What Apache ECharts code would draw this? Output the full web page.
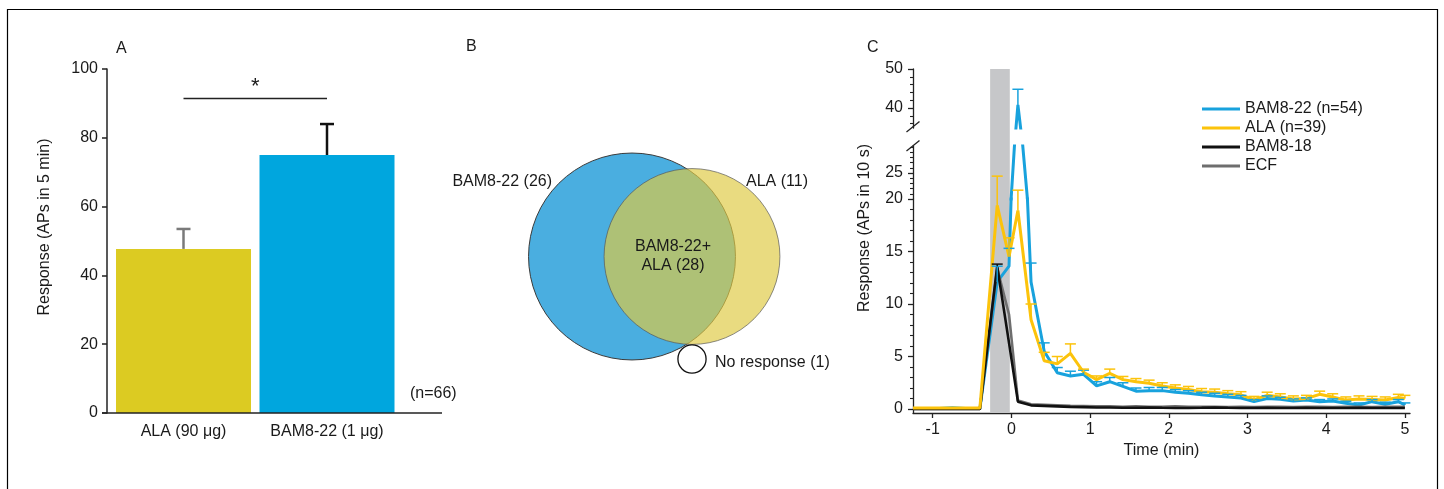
<!DOCTYPE html>
<html>
<head>
<meta charset="utf-8">
<script src="https://cdn.jsdelivr.net/npm/echarts@6/dist/echarts.min.js"></script>
<style>
html,body{margin:0;padding:0;background:#fff;}
#chart{width:1444px;height:489px;}
</style>
</head>
<body>
<div id="chart"></div>
<script>
// ---------- Panel A data ----------
const barCategories = ['ALA (90 μg)', 'BAM8-22 (1 μg)'];
const barValues = [47.7, 75.0];
const barErrors = [5.8, 9.0];
const sigLevel = 91.6;
const yTicksA = [0, 20, 40, 60, 80, 100];

// ---------- Panel B data ----------
const vennOnlyBAM = 26;
const vennOnlyALA = 11;
const vennBoth = 28;
const vennNone = 1;

// ---------- Panel C data ----------
const timeMin = [-1.25, -1.083, -0.917, -0.75, -0.583, -0.4, -0.18, -0.03, 0.083, 0.25, 0.417, 0.583, 0.75, 0.917, 1.083, 1.25, 1.417, 1.583, 1.75, 1.917, 2.083, 2.25, 2.417, 2.583, 2.75, 2.917, 3.083, 3.25, 3.417, 3.583, 3.75, 3.917, 4.083, 4.25, 4.417, 4.583, 4.75, 4.917, 5.0];
const bam22Resp = [0.05, 0.05, 0.05, 0.12, 0.05, 0.05, 12.1, 13.6, 40.8, 12.1, 5.5, 3.45, 3.15, 3.3, 2.2, 2.6, 2.15, 1.7, 1.75, 1.75, 1.6, 1.5, 1.35, 1.25, 1.15, 1.05, 0.7, 1.0, 0.92, 0.76, 0.86, 0.7, 0.76, 0.54, 0.38, 0.7, 0.45, 0.7, 0.38];
const bam22Err = [0, 0, 0, 0, 0, 0, 1.5, 1.7, 4.0, 1.8, 0.8, 0.5, 0.45, 0.4, 0.4, 0.4, 0.35, 0.3, 0.3, 0.3, 0.25, 0.25, 0.25, 0.25, 0.25, 0.25, 0.2, 0.25, 0.2, 0.2, 0.2, 0.2, 0.2, 0.2, 0.2, 0.2, 0.2, 0.2, 0.2];
const alaResp = [0.1, 0.1, 0.1, 0.1, 0.1, 0.1, 19.4, 14.5, 18.9, 8.5, 4.6, 4.3, 5.3, 3.5, 2.8, 3.4, 2.8, 2.6, 2.45, 2.2, 2.0, 1.85, 1.65, 1.6, 1.45, 1.35, 0.9, 1.3, 1.15, 0.95, 1.0, 1.4, 1.15, 0.85, 0.95, 0.9, 0.85, 1.1, 1.0];
const alaErr = [0, 0, 0, 0, 0, 0, 5.0, 1.8, 2.8, 1.5, 0.8, 0.7, 0.9, 0.3, 0.35, 0.4, 0.3, 0.3, 0.3, 0.3, 0.3, 0.3, 0.3, 0.3, 0.3, 0.3, 0.3, 0.3, 0.3, 0.3, 0.3, 0.3, 0.3, 0.3, 0.3, 0.3, 0.3, 0.3, 0.3];
const bam18Resp = [0, 0, 0, 0, 0, 0, 13.6, 6.3, 0.7, 0.35, 0.3, 0.25, 0.2, 0.18, 0.15, 0.15, 0.12, 0.12, 0.15, 0.12, 0.1, 0.1, 0.12, 0.15, 0.12, 0.1, 0.1, 0.12, 0.1, 0.1, 0.12, 0.1, 0.1, 0.1, 0.12, 0.1, 0.1, 0.1, 0.1];
const bam18Err = [0, 0, 0, 0, 0, 0, 0.2, 0, 0, 0, 0, 0, 0, 0, 0, 0, 0, 0, 0, 0, 0, 0, 0, 0, 0, 0, 0, 0, 0, 0, 0, 0, 0, 0, 0, 0, 0, 0, 0];
const ecfResp = [0, 0, 0, 0, 0, 0, 13.4, 9.0, 0.8, 0.45, 0.4, 0.35, 0.3, 0.28, 0.25, 0.25, 0.22, 0.25, 0.22, 0.2, 0.25, 0.2, 0.2, 0.22, 0.18, 0.2, 0.18, 0.2, 0.2, 0.18, 0.2, 0.2, 0.18, 0.2, 0.2, 0.18, 0.2, 0.2, 0.2];
const stimWindow = [-0.27, -0.02];
const seriesNamesC = ['BAM8-22 (n=54)', 'ALA (n=39)', 'BAM8-18', 'ECF'];
const xTicksC = [-1, 0, 1, 2, 3, 4, 5];
const yTicksHigh = [40, 50];
const yMinorHigh = [36, 38, 42, 44, 46, 48];
const yTicksMid = [25];
const yMinorMid = [21, 22, 23, 24, 26, 27, 28, 29, 30];
const yTicksLow = [0, 5, 10, 15, 20];
const yMinorLow = [1, 2, 3, 4, 6, 7, 8, 9, 11, 12, 13, 14, 16, 17, 18, 19];

// ---------- styling ----------
const FONT = '"Liberation Sans", Arial, Helvetica, sans-serif';
const TXT = '#1a1a1a';
const AXC = '#222';
const barColors = ['#dccb22', '#00a6de'];
const barErrColors = ['#7a7a7a', '#111111'];
const colC = ['#18a2dd', '#fcc30b', '#111111', '#6e6e6e'];
const lwC = [3, 3, 2.6, 2.6];
const zC = [3, 6, 5, 4];

const chart = echarts.init(document.getElementById('chart'), null, {renderer: 'canvas'});

// Panel C geometry
const cLeft = 913, cWidth = 497;
const xMinC = -1.25, xMaxC = 5.065;

function errBarRender(colors, capHalf, lw) {
  return function (params, api) {
    const cs = params.coordSys;
    const t = api.value(0), v = api.value(1), e = api.value(2), ci = api.value(3);
    if (!e) return {type: 'group', children: []};
    const p0 = api.coord([t, v]);
    const p1 = api.coord([t, v + e]);
    const top = cs.y, bot = cs.y + cs.height;
    const y0 = Math.min(p0[1], bot);
    const y1 = Math.max(p1[1], top);
    if (y1 >= y0) return {type: 'group', children: []};
    const col = colors[ci];
    const ch = [{type: 'line', shape: {x1: p0[0], y1: y0, x2: p0[0], y2: y1}, style: {stroke: col, lineWidth: lw}}];
    if (p1[1] >= top && p1[1] <= bot) {
      ch.push({type: 'line', shape: {x1: p0[0] - capHalf, y1: p1[1], x2: p0[0] + capHalf, y2: p1[1]}, style: {stroke: col, lineWidth: lw}});
    }
    return {type: 'group', children: ch};
  };
}

const respC = [bam22Resp, alaResp, bam18Resp, ecfResp];
const errC = [bam22Err, alaErr, bam18Err, null];
const errData = [];
respC.forEach((arr, si) => {
  if (!errC[si]) return;
  arr.forEach((v, i) => { if (errC[si][i] > 0) errData.push([timeMin[i], v, errC[si][i], si]); });
});

const grids = [
  {left: 111.75, top: 69, width: 287, height: 344},          // 0 panel A
  {left: 500, top: 140, width: 330, height: 240},            // 1 panel B
  {left: cLeft, top: 69, width: cWidth, height: 344},        // 2 stimulus background
  {left: cLeft, top: 69, width: cWidth, height: 59},         // 3 upper segment
  {left: cLeft, top: 146, width: cWidth, height: 53},        // 4 middle segment
  {left: cLeft, top: 199, width: cWidth, height: 214}        // 5 lower segment
];

const hiddenX = (gi) => ({type: 'value', gridIndex: gi, min: xMinC, max: xMaxC, show: false});
const axisLineC = {show: true, onZero: false, lineStyle: {color: AXC, width: 1.3}};

const xAxes = [
  {type: 'category', gridIndex: 0, data: barCategories, axisLine: {show: false}, axisTick: {show: false},
   axisLabel: {fontSize: 16, color: TXT, margin: 11, fontFamily: FONT, interval: 0}},
  {type: 'value', gridIndex: 1, min: 0, max: 330, show: false},
  hiddenX(2), hiddenX(3), hiddenX(4),
  {type: 'value', gridIndex: 5, min: xMinC, max: xMaxC, position: 'bottom', axisLine: axisLineC,
   axisTick: {show: true, length: 5, lineStyle: {color: AXC, width: 1.3}, customValues: xTicksC},
   axisLabel: {fontSize: 16, color: TXT, margin: 9, fontFamily: FONT, customValues: xTicksC},
   splitLine: {show: false},
   name: 'Time (min)', nameLocation: 'middle', nameGap: 30,
   nameTextStyle: {fontSize: 16, color: TXT, fontFamily: FONT}}
];

function yMajor(gi, min, max, ticks) {
  return {type: 'value', gridIndex: gi, min: min, max: max, position: 'left', offset: 0, axisLine: axisLineC,
    axisTick: {show: true, length: 5, lineStyle: {color: AXC, width: 1.3}, customValues: ticks},
    axisLabel: {fontSize: 16, color: TXT, margin: 10, fontFamily: FONT, customValues: ticks},
    splitLine: {show: false}};
}
function yMinor(gi, min, max, ticks) {
  return {type: 'value', gridIndex: gi, min: min, max: max, position: 'left', offset: 0,
    axisLine: {show: false, onZero: false},
    axisTick: {show: true, length: 3, lineStyle: {color: AXC, width: 1.1}, customValues: ticks},
    axisLabel: {show: false}, splitLine: {show: false}};
}

const yAxes = [
  {type: 'value', gridIndex: 0, min: 0, max: 100, interval: 20, offset: 4.75, position: 'left',
   axisLine: {show: true, onZero: false, lineStyle: {color: AXC, width: 1.5}},
   axisTick: {show: true, length: 5, lineStyle: {color: AXC, width: 1.5}},
   axisLabel: {fontSize: 16, color: TXT, margin: 9, fontFamily: FONT, customValues: yTicksA},
   splitLine: {show: false}},
  {type: 'value', gridIndex: 1, min: 0, max: 240, inverse: true, show: false},
  {type: 'value', gridIndex: 2, min: 0, max: 1, show: false},
  yMajor(3, 34.87, 50, yTicksHigh), yMinor(3, 34.87, 50, yMinorHigh),
  yMajor(4, 20, 30.2, yTicksMid), yMinor(4, 20, 30.2, yMinorMid),
  yMajor(5, -0.38, 20, yTicksLow), yMinor(5, -0.38, 20, yMinorLow)
];

const series = [];

// Panel A bars
series.push({
  type: 'bar', xAxisIndex: 0, yAxisIndex: 0, barWidth: 135, silent: true,
  data: barValues.map((v, i) => ({value: v, itemStyle: {color: barColors[i]}})),
  markLine: {
    silent: true, symbol: 'none',
    lineStyle: {color: AXC, width: 1.3, type: 'solid'},
    label: {show: true, formatter: '*', position: 'middle', fontSize: 22, color: TXT, fontFamily: FONT, distance: 0},
    data: [[{coord: [0, sigLevel]}, {coord: [1, sigLevel]}]]
  }
});
series.push({
  type: 'custom', xAxisIndex: 0, yAxisIndex: 0, z: 5, silent: true,
  data: barValues.map((v, i) => [i, v, barErrors[i], i]),
  renderItem: errBarRender(barErrColors, 7, 2.5)
});

// Panel B Venn (area-proportional circles)
const K = 14.08;
const vennCircles = [
  {value: [132, 116.5], symbolSize: 2 * K * Math.sqrt(vennOnlyBAM + vennBoth),
   itemStyle: {color: '#4aaee0', borderColor: '#3a3a3a', borderWidth: 1, opacity: 1}},
  {value: [192, 116.5], symbolSize: 2 * K * Math.sqrt(vennOnlyALA + vennBoth),
   itemStyle: {color: '#dfca44', borderColor: '#555', borderWidth: 1, opacity: 0.68}},
  {value: [192, 219], symbolSize: 2 * K * Math.sqrt(vennNone),
   itemStyle: {color: '#ffffff', borderColor: '#111', borderWidth: 1.3, opacity: 1}}
];
series.push({type: 'scatter', xAxisIndex: 1, yAxisIndex: 1, symbol: 'circle', silent: true, z: 2, data: vennCircles});

// Panel C stimulus window
series.push({
  type: 'custom', xAxisIndex: 2, yAxisIndex: 2, z: 1, silent: true,
  data: [[stimWindow[0], stimWindow[1]]],
  renderItem: function (params, api) {
    const a = api.coord([api.value(0), 1]);
    const b = api.coord([api.value(1), 0]);
    return {type: 'rect', shape: {x: a[0], y: a[1], width: b[0] - a[0], height: b[1] - a[1]}, style: {fill: '#c6c7c9'}};
  }
});

// Panel C lines in each axis segment (clipped to segment)
[[3, 3], [4, 5], [5, 7]].forEach(([gi, yi]) => {
  respC.forEach((arr, si) => {
    series.push({
      type: 'line', name: seriesNamesC[si], xAxisIndex: gi, yAxisIndex: yi,
      data: arr.map((v, i) => [timeMin[i], v]),
      symbol: 'none', showSymbol: false, clip: true, silent: true, z: zC[si],
      lineStyle: {color: colC[si], width: lwC[si]}, itemStyle: {color: colC[si]}
    });
  });
  series.push({
    type: 'custom', xAxisIndex: gi, yAxisIndex: yi, z: 7, silent: true,
    data: errData, renderItem: errBarRender(colC, 5.5, 1.5)
  });
});

const T16 = '16px ' + FONT;
const graphics = [
  // figure frame
  {type: 'polyline', shape: {points: [[7.5, 489], [7.5, 9.5], [1437.5, 9.5], [1437.5, 489]]}, style: {stroke: '#000', lineWidth: 1.2, fill: null}, silent: true},
  // panel A baseline
  {type: 'line', shape: {x1: 102, y1: 413, x2: 442, y2: 413}, style: {stroke: AXC, lineWidth: 1.5}, silent: true},
  // panel letters
  {type: 'text', x: 116, y: 49, style: {text: 'A', font: T16, fill: TXT, verticalAlign: 'middle'}},
  {type: 'text', x: 466, y: 47, style: {text: 'B', font: T16, fill: TXT, verticalAlign: 'middle'}},
  {type: 'text', x: 867, y: 48, style: {text: 'C', font: T16, fill: TXT, verticalAlign: 'middle'}},
  // panel A texts
  {type: 'text', x: 45, y: 227, rotation: Math.PI / 2, style: {text: 'Response (APs in 5 min)', font: T16, fill: TXT, align: 'center', verticalAlign: 'middle'}},
  {type: 'text', x: 410, y: 394, style: {text: '(n=' + (vennOnlyBAM + vennOnlyALA + vennBoth + vennNone) + ')', font: T16, fill: TXT, verticalAlign: 'middle'}},
  // panel B texts
  {type: 'text', x: 552, y: 182, style: {text: 'BAM8-22 (' + vennOnlyBAM + ')', font: T16, fill: TXT, align: 'right', verticalAlign: 'middle'}},
  {type: 'text', x: 746, y: 182, style: {text: 'ALA (' + vennOnlyALA + ')', font: T16, fill: TXT, align: 'left', verticalAlign: 'middle'}},
  {type: 'text', x: 673, y: 256, style: {text: 'BAM8-22+\nALA (' + vennBoth + ')', font: T16, fill: TXT, align: 'center', verticalAlign: 'middle', lineHeight: 19}},
  {type: 'text', x: 715, y: 363, style: {text: 'No response (' + vennNone + ')', font: T16, fill: TXT, align: 'left', verticalAlign: 'middle'}},
  // panel C axis title and break marks
  {type: 'text', x: 865, y: 228, rotation: Math.PI / 2, style: {text: 'Response (APs in 10 s)', font: T16, fill: TXT, align: 'center', verticalAlign: 'middle'}},
  {type: 'line', shape: {x1: 906.5, y1: 132, x2: 919.5, y2: 121.5}, style: {stroke: AXC, lineWidth: 1.3}},
  {type: 'line', shape: {x1: 906.5, y1: 151, x2: 919.5, y2: 140.5}, style: {stroke: AXC, lineWidth: 1.3}}
].map(g => Object.assign({z: 100}, g));

const option = {
  animation: false,
  backgroundColor: '#ffffff',
  textStyle: {fontFamily: FONT},
  grid: grids,
  xAxis: xAxes,
  yAxis: yAxes,
  legend: {
    data: seriesNamesC, orient: 'vertical', left: 1197, top: 94.5,
    icon: 'rect', itemWidth: 38, itemHeight: 3, itemGap: 0, selectedMode: false,
    textStyle: {fontSize: 16, color: TXT, fontFamily: FONT, lineHeight: 19}
  },
  series: series,
  graphic: graphics
};
chart.setOption(option);
</script>
</body>
</html>
